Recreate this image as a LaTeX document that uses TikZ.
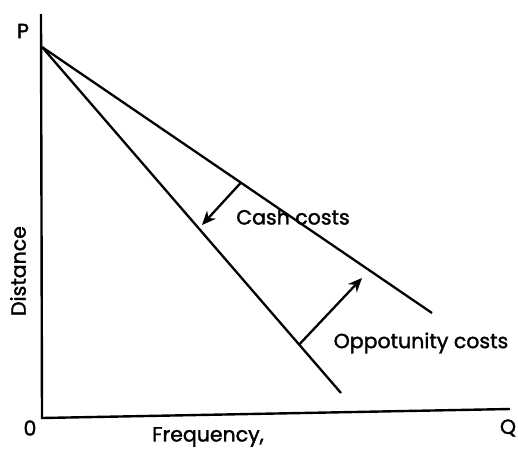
\documentclass[tikz,border=0pt]{standalone}
\usepackage{fontspec}
\setmainfont{Poppins}
\newfontfamily\lblfont{Poppins}[FakeBold=1.6]
\usetikzlibrary{arrows.meta,calc}
\begin{document}
\begin{tikzpicture}[x=1pt,y=-1pt,
  axis/.style={line width=2.4pt},
  budget/.style={line width=2.3pt},
  shiftarrow/.style={line width=2.3pt,-{Stealth[length=14pt,width=12pt]}},
  lbl/.style={font=\lblfont\fontsize{20.5}{24}\selectfont,inner sep=0pt}]
\useasboundingbox (0,0) rectangle (518,453);
% axes
\coordinate (ytop) at (41,14);
\coordinate (origin) at (42,418);
\coordinate (xend) at (510,409);
\draw[axis] (ytop) -- (origin) -- (xend);
% the two lines from the common intercept
\coordinate (apex) at (42,47);
\coordinate (upper) at (432,313);
\coordinate (lower) at (341,393);
\draw[budget] (apex) -- (upper);
\draw[budget] (apex) -- (lower);
% shift arrows
\coordinate (cs) at ($(apex)!0.51!(upper)$);
\coordinate (ce) at (202,225);
\coordinate (os) at ($(apex)!0.86!(lower)$);
\coordinate (oe) at (362,278);
\draw[shiftarrow] (cs) -- (ce);
\draw[shiftarrow] (os) -- (oe);
% labels
\node[lbl] (cash) at (293,217) {Cash costs};
\node[lbl] (opp) at (421,343) {Oppotunity costs};
\node[lbl] (freq) at (208,437) {Frequency,};
\node[lbl,rotate=90] (dist) at (18,271) {Distance};
\node[lbl] (plab) at (23,31) {P};
\node[lbl] (olab) at (30,428) {0};
\node[lbl] (qlab) at (508,428) {Q};
\end{tikzpicture}
\end{document}
